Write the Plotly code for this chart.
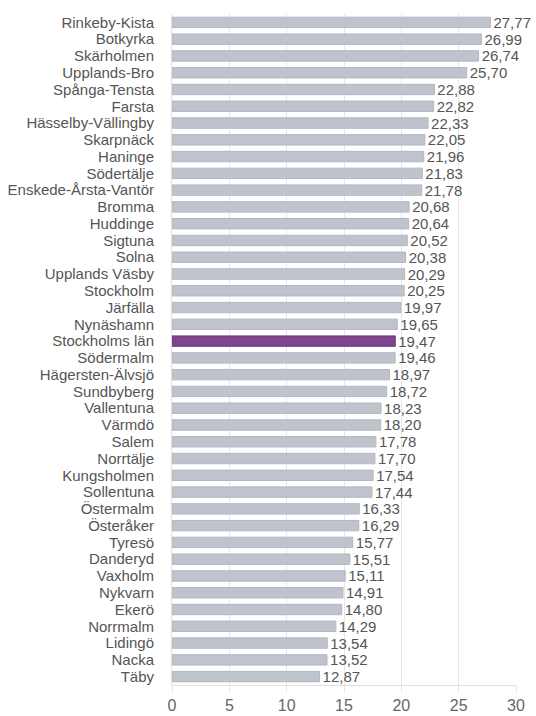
import plotly.graph_objects as go

categories = ["Rinkeby-Kista", "Botkyrka", "Skärholmen", "Upplands-Bro", "Spånga-Tensta", "Farsta",
              "Hässelby-Vällingby", "Skarpnäck", "Haninge", "Södertälje", "Enskede-Årsta-Vantör",
              "Bromma", "Huddinge", "Sigtuna", "Solna", "Upplands Väsby", "Stockholm", "Järfälla",
              "Nynäshamn", "Stockholms län", "Södermalm", "Hägersten-Älvsjö", "Sundbyberg",
              "Vallentuna", "Värmdö", "Salem", "Norrtälje", "Kungsholmen", "Sollentuna",
              "Östermalm", "Österåker", "Tyresö", "Danderyd", "Vaxholm", "Nykvarn", "Ekerö",
              "Norrmalm", "Lidingö", "Nacka", "Täby"]
values = [27.77, 26.99, 26.74, 25.70, 22.88, 22.82, 22.33, 22.05, 21.96, 21.83, 21.78,
          20.68, 20.64, 20.52, 20.38, 20.29, 20.25, 19.97, 19.65, 19.47, 19.46, 18.97, 18.72,
          18.23, 18.20, 17.78, 17.70, 17.54, 17.44, 16.33, 16.29, 15.77, 15.51, 15.11, 14.91,
          14.80, 14.29, 13.54, 13.52, 12.87]
highlight = "Stockholms län"
tick_vals = [0, 5, 10, 15, 20, 25, 30]

fill = ["#7f4390" if c == highlight else "#bfc3cc" for c in categories]
line = ["#6a3479" if c == highlight else "#b2b7c2" for c in categories]
text = [f"{v:.2f}".replace(".", ",") for v in values]

fig = go.Figure(go.Bar(
    x=values, y=categories, orientation="h",
    marker=dict(color=fill, line=dict(color=line, width=1)),
    text=text, textposition="outside", cliponaxis=False, constraintext="none",
    textfont=dict(size=15, color="#555555", family="Liberation Sans"),
    hoverinfo="skip",
))

fig.update_layout(
    width=536, height=716,
    margin=dict(l=172, r=20, t=14, b=31),
    paper_bgcolor="white", plot_bgcolor="white",
    bargap=0.38, showlegend=False,
    font=dict(family="Liberation Sans", color="#555555"),
    xaxis=dict(range=[0, 30], tickvals=tick_vals, showgrid=True, gridcolor="#e6e6e6",
               zeroline=False, showline=True, linecolor="#e0e0e0", ticks="outside",
               ticklen=6, tickcolor="#e6e6e6", ticklabelstandoff=0,
               tickfont=dict(size=16, color="#666666"), automargin=False),
    yaxis=dict(autorange="reversed", showline=True, linecolor="#e0e0e0",
               tickmode="array", tickvals=categories,
               tickfont=dict(size=15, color="#555555"), ticks="", ticklabelstandoff=14,
               automargin=False),
)

fig.write_html("out.html", config={"displayModeBar": False})

with open("out.html", "r", encoding="utf-8") as f:
    html = f.read()
html = html.replace("<body>", '<body style="margin:0;overflow:hidden">', 1)
with open("out.html", "w", encoding="utf-8") as f:
    f.write(html)
